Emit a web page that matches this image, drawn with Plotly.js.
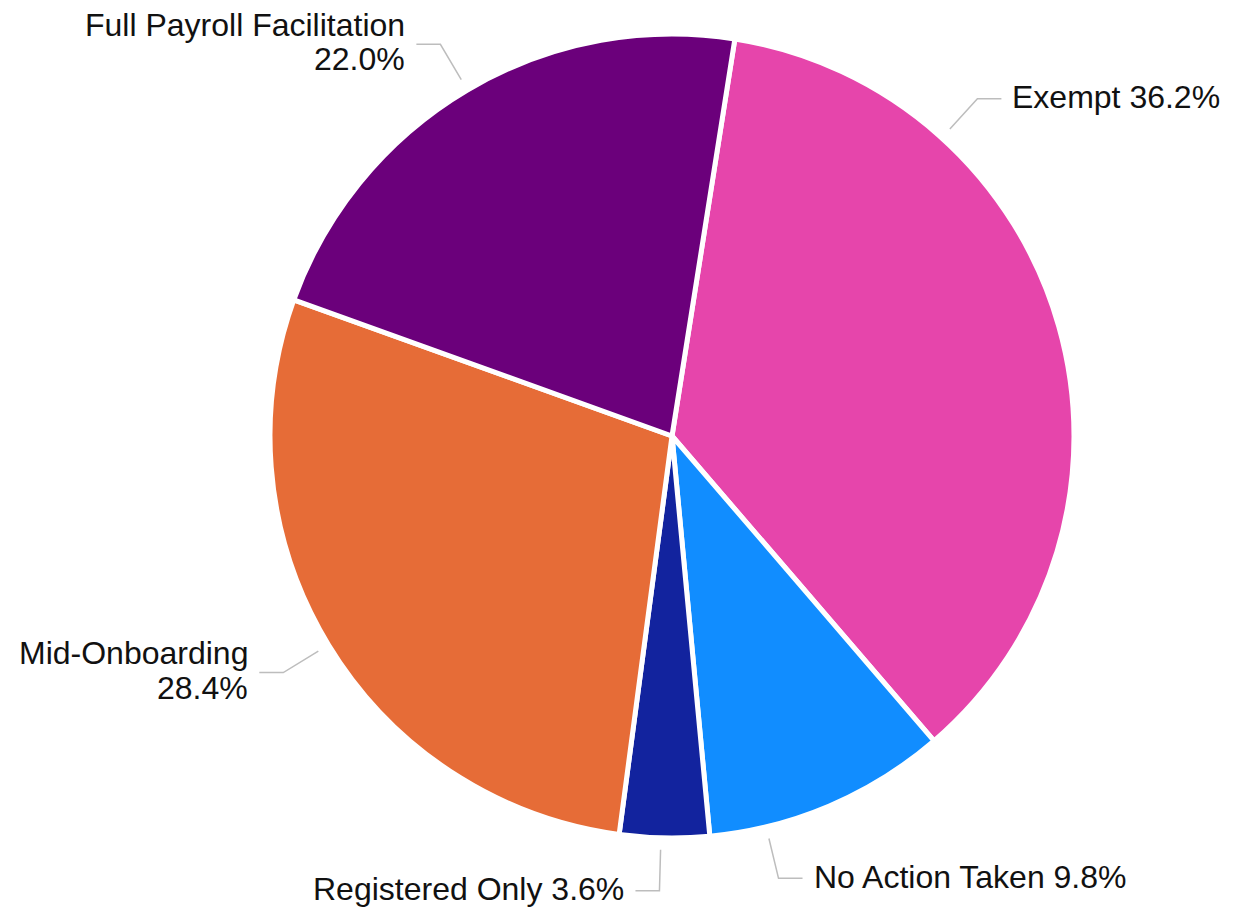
<!DOCTYPE html>
<html>
<head>
<meta charset="utf-8">
<script src="https://cdn.plot.ly/plotly-3.0.1.min.js"></script>
<style>html,body{margin:0;padding:0;background:#fff;}#chart{width:1253px;height:908px;}</style>
</head>
<body>
<div id="chart"></div>
<script>
// ---- data ----
const categories = ['Exempt', 'No Action Taken', 'Registered Only', 'Mid-Onboarding', 'Full Payroll Facilitation'];
const shares = [36.2, 9.8, 3.6, 28.4, 22.0];
const sliceColors = ['#E645AB', '#118DFF', '#12239E', '#E66C37', '#6B007B'];
const labelTwoLine = [false, false, false, true, true];
const labelAngleShift = [-32, 9.5, 0.5, 0, 0];   // label placement tweaks (deg)

// ---- layout config ----
const W = 1253, H = 908;
const cx = 672, cy = 436, R = 402;
const startRotation = 9;
const rLineStart = 414, rElbow = 455, hLen = 24, gap = 9;
const fontFam = '"Liberation Sans", Arial, sans-serif';
const fontSize = 32;

const px = x => x / W;
const py = y => 1 - y / H;

const total = shares.reduce((a, b) => a + b, 0);
let cum = 0;
const annotations = [];
const shapes = [];
shares.forEach((v, i) => {
  const a0 = startRotation + cum / total * 360;
  cum += v;
  const a1 = startRotation + cum / total * 360;
  const ang = ((a0 + a1) / 2 + labelAngleShift[i]) * Math.PI / 180;
  const sx = cx + rLineStart * Math.sin(ang), sy = cy - rLineStart * Math.cos(ang);
  const ex = cx + rElbow * Math.sin(ang), ey = cy - rElbow * Math.cos(ang);
  const right = Math.sin(ang) > 0;
  const hx = right ? ex + hLen : ex - hLen;
  shapes.push({
    type: 'path', xref: 'paper', yref: 'paper',
    path: `M ${px(sx)} ${py(sy)} L ${px(ex)} ${py(ey)} L ${px(hx)} ${py(ey)}`,
    line: {color: '#bdbdbd', width: 1.5}
  });
  const tx = right ? hx + gap : hx - gap;
  const anchor = right ? 'left' : 'right';
  const pct = v.toFixed(1) + '%';
  const lines = labelTwoLine[i] ? [[categories[i], ey - 19.5], [pct, ey + 15]] : [[categories[i] + ' ' + pct, ey - 1.5]];
  lines.forEach(([t, yy]) => {
    annotations.push({
      text: t, xref: 'paper', yref: 'paper', x: px(tx), y: py(yy),
      xanchor: anchor, yanchor: 'middle', showarrow: false, align: anchor,
      font: {family: fontFam, size: fontSize, color: '#111111'}
    });
  });
});

const trace = {
  type: 'pie',
  labels: categories,
  values: shares,
  sort: false,
  direction: 'clockwise',
  rotation: startRotation,
  textinfo: 'none',
  hoverinfo: 'label+percent',
  marker: {colors: sliceColors, line: {color: '#ffffff', width: 5}},
  domain: {x: [px(cx - R), px(cx + R)], y: [py(cy + R), py(cy - R)]},
  showlegend: false
};

const layout = {
  width: W, height: H,
  margin: {l: 0, r: 0, t: 0, b: 0},
  paper_bgcolor: '#ffffff',
  showlegend: false,
  annotations, shapes
};

Plotly.newPlot('chart', [trace], layout, {displayModeBar: false, staticPlot: true});
</script>
</body>
</html>
